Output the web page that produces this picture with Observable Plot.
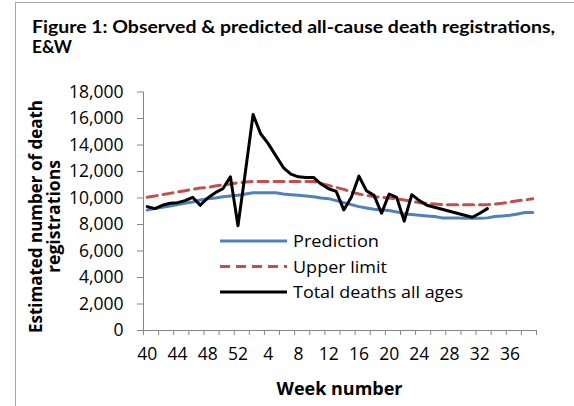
<!DOCTYPE html>
<html>
<head>
<meta charset="utf-8">
<script src="https://cdn.jsdelivr.net/npm/d3@7"></script>
<script src="https://cdn.jsdelivr.net/npm/@observablehq/plot@0.6"></script>
<style>
  html, body { margin: 0; padding: 0; background: #fff; }
  #wrap { position: relative; width: 574px; height: 406px; overflow: hidden;
          font-family: "Open Sans", Lato, sans-serif; color: #000; }
  #frame { position: absolute; left: 15px; top: 2px; width: 700px; height: 500px;
           border-left: 1px solid #a6a6a6; border-top: 1px solid #a6a6a6; }
  #chart, #overlay { position: absolute; left: 0; top: 0; }
</style>
</head>
<body>
<div id="wrap">
  <div id="frame"></div>
  <div id="chart"></div>
  <div id="overlay"></div>
</div>
<script>
// Week numbers (categories), week 40 through week 39 of the following year
const weeks = [40,41,42,43,44,45,46,47,48,49,50,51,52,
  1,2,3,4,5,6,7,8,9,10,11,12,13,14,15,16,17,18,19,20,
  21,22,23,24,25,26,27,28,29,30,31,32,33,34,35,36,37,38,39];

const prediction = [9100,9200,9300,9400,9500,9600,9700,9850,9950,10000,10100,10150,10200,
  10300,10400,10400,10400,10400,10300,10250,10200,10150,10100,10000,9950,9800,9650,
  9500,9350,9250,9150,9100,9050,8950,8800,8750,8700,8650,8600,8500,8500,8500,8480,
  8480,8480,8500,8600,8650,8700,8800,8900,8900];

const upperLimit = [10050,10150,10250,10350,10450,10550,10650,10750,10800,10900,11000,11050,11150,
  11200,11250,11250,11250,11250,11250,11250,11250,11250,11250,11100,10950,10800,10650,
  10450,10300,10200,10100,10050,10000,9950,9850,9750,9650,9600,9550,9500,9500,9500,9500,
  9500,9500,9500,9550,9600,9700,9800,9850,9950];

const totalDeaths = [9350,9200,9450,9600,9650,9800,10050,9450,10000,10400,10700,11600,7900,
  12050,16300,14850,14100,13200,12300,11800,11600,11550,11550,11050,10700,10500,9100,
  10050,11650,10550,10200,8850,10300,10050,8250,10250,9800,9450,9300,9150,9000,8850,
  8700,8550,8850,9200];

const yTicks = [0,2000,4000,6000,8000,10000,12000,14000,16000,18000];
const xLabelWeeks = [40,44,48,52,4,8,12,16,20,24,28,32,36];

const seriesNames = ["Prediction", "Upper limit", "Total deaths all ages"];
const seriesColors = ["#4F81BD", "#C0504D", "#000000"];

const titleLines = ["Figure 1: Observed & predicted all-cause death registrations,", "E&W"];
const yTitleLines = ["Estimated number of death", "registrations"];
const xTitle = "Week number";

const rows = weeks.map((w, i) => ({
  i, week: w,
  prediction: prediction[i],
  upper: upperLimit[i],
  total: i < totalDeaths.length ? totalDeaths[i] : null
}));
const observed = rows.filter(d => d.total != null);

const labelPos = xLabelWeeks.map(w => weeks.indexOf(w));
const boundaries = d3.range(-0.5, weeks.length, 2);
const axisGray = "#868686";
const font = "'Open Sans', Lato, sans-serif";
const titleFont = "Lato, 'Open Sans', sans-serif";

const chart = Plot.plot({
  width: 574,
  height: 406,
  marginLeft: 143,
  marginRight: 38,
  marginTop: 91.5,
  marginBottom: 76,
  style: { fontFamily: font, fontSize: "17px", color: "#000", background: "transparent" },
  x: { domain: [-0.5, weeks.length - 0.5], axis: null },
  y: { domain: [0, 18000], axis: null },
  marks: [
    Plot.axisY({ ticks: yTicks, tickSize: 6, tickPadding: 14, tickFormat: d3.format(","),
                 stroke: axisGray, fill: "#000", fontSize: 17.5, label: null }),
    Plot.axisX({ ticks: boundaries, tickSize: 5, tickFormat: () => "", stroke: axisGray, label: null }),
    Plot.axisX({ ticks: labelPos, tickSize: 0, tickPadding: 17, label: null,
                 tickFormat: i => String(weeks[i]), fill: "#000", fontSize: 17.5 }),
    Plot.ruleX([-0.5], { stroke: axisGray, strokeWidth: 1 }),
    Plot.ruleY([0], { stroke: axisGray, strokeWidth: 1 }),
    Plot.lineY(rows, { x: "i", y: "prediction", stroke: seriesColors[0], strokeWidth: 3,
                       strokeLinejoin: "round" }),
    Plot.lineY(rows, { x: "i", y: "upper", stroke: seriesColors[1], strokeWidth: 3,
                       strokeDasharray: "10,6" }),
    Plot.lineY(observed, { x: "i", y: "total", stroke: seriesColors[2], strokeWidth: 3,
                           strokeLinejoin: "round" })
  ]
});
document.getElementById("chart").appendChild(chart);

// Overlay: titles and legend
const ns = "http://www.w3.org/2000/svg";
const ov = document.createElementNS(ns, "svg");
ov.setAttribute("width", 574);
ov.setAttribute("height", 406);
ov.setAttribute("font-family", font);
function addText(str, x, y, opts = {}) {
  const t = document.createElementNS(ns, "text");
  t.setAttribute("x", x); t.setAttribute("y", y);
  t.setAttribute("font-size", opts.size || 17);
  if (opts.family) t.setAttribute("font-family", opts.family);
  if (opts.bold) t.setAttribute("font-weight", "bold");
  if (opts.anchor) t.setAttribute("text-anchor", opts.anchor);
  if (opts.dy) t.setAttribute("dy", opts.dy);
  if (opts.transform) t.setAttribute("transform", opts.transform);
  if (opts.len) { t.setAttribute("textLength", opts.len); t.setAttribute("lengthAdjust", "spacingAndGlyphs"); }
  t.textContent = str;
  ov.appendChild(t);
  return t;
}
// Title
addText(titleLines[0], 32, 33.3, { bold: true, size: 16.5, len: 523, family: titleFont });
addText(titleLines[1], 32, 53.3, { bold: true, size: 16.5, len: 40, family: titleFont });
// Y title (rotated)
addText(yTitleLines[0], 0, 0, { bold: true, size: 17, anchor: "middle", len: 233,
  transform: "translate(41.5,216.5) rotate(-90)" });
addText(yTitleLines[1], 0, 0, { bold: true, size: 17, anchor: "middle", len: 113,
  transform: "translate(60,216.5) rotate(-90)" });
// X title
addText(xTitle, 339.5, 395, { bold: true, size: 17, anchor: "middle", len: 126 });
// Legend
const legendLens = [86, 94, 170];
seriesNames.forEach((name, k) => {
  const y = 241 + k * 25.5;
  const line = document.createElementNS(ns, "line");
  line.setAttribute("x1", 220); line.setAttribute("x2", 287);
  line.setAttribute("y1", y); line.setAttribute("y2", y);
  line.setAttribute("stroke", seriesColors[k]);
  line.setAttribute("stroke-width", 3);
  if (k === 1) line.setAttribute("stroke-dasharray", "10,6");
  ov.appendChild(line);
  addText(name, 293, y, { size: 17, dy: "0.36em", len: legendLens[k] });
});
document.getElementById("overlay").appendChild(ov);
</script>
</body>
</html>
